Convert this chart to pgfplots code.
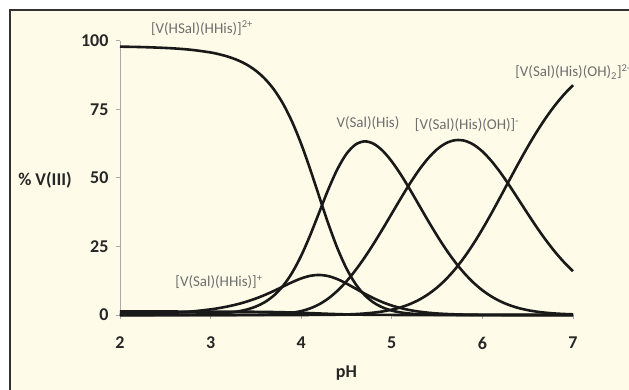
\documentclass[border=0pt]{standalone}
\usepackage{pgfplots}
\usepackage{pgfplotstable}
\usepackage{fontspec}
\setmainfont{Carlito}
\pgfplotsset{compat=1.18}
\definecolor{cream}{RGB}{254,251,232}
\definecolor{framegray}{RGB}{50,50,50}
\definecolor{labgray}{RGB}{110,110,110}
\definecolor{axgray}{RGB}{170,170,170}
\definecolor{curve}{RGB}{25,25,25}
\tikzset{speccurve/.style={draw=curve, line width=2.6bp, smooth, mark=none}}

\pgfplotstableread{
pH A B C D E F
2.0 97.83 0.21 0.00 0.00 0.00 1.27
2.2 97.71 0.33 0.01 0.00 0.00 1.27
2.4 97.50 0.52 0.02 0.00 0.00 1.27
2.6 97.18 0.83 0.05 0.00 0.00 1.26
2.8 96.63 1.30 0.13 0.00 0.00 1.25
3.0 95.71 2.05 0.33 0.00 0.00 1.24
3.1 95.01 2.56 0.52 0.00 0.00 1.24
3.2 94.10 3.19 0.82 0.01 0.00 1.22
3.3 92.88 3.96 1.28 0.02 0.00 1.21
3.4 91.25 4.90 2.00 0.03 0.00 1.19
3.5 89.05 6.02 3.09 0.06 0.00 1.16
3.6 86.09 7.33 4.73 0.12 0.00 1.12
3.7 82.16 8.80 7.16 0.24 0.00 1.07
3.8 77.00 10.39 10.63 0.44 0.00 1.00
3.9 70.42 11.96 15.41 0.81 0.00 0.92
4.0 62.36 13.33 21.62 1.43 0.01 0.81
4.1 53.06 14.28 29.16 2.43 0.02 0.69
4.2 43.07 14.59 37.51 3.93 0.03 0.56
4.3 33.21 14.17 45.85 6.04 0.06 0.43
4.4 24.32 13.06 53.19 8.83 0.12 0.32
4.5 16.95 11.46 58.77 12.28 0.20 0.22
4.6 11.31 9.63 62.15 16.35 0.34 0.15
4.7 7.27 7.79 63.30 20.96 0.55 0.10
4.8 4.52 6.10 62.41 26.02 0.86 0.06
4.9 2.74 4.64 59.85 31.41 1.31 0.03
5.0 1.61 3.45 55.97 36.98 1.94 0.02
5.1 0.93 2.51 51.17 42.56 2.81 0.01
5.2 0.53 1.78 45.77 47.93 3.99 0.01
5.3 0.29 1.24 40.09 52.85 5.53 0.00
5.4 0.16 0.84 34.39 57.08 7.53 0.00
5.5 0.08 0.56 28.92 60.41 10.02 0.00
5.6 0.04 0.37 23.83 62.67 13.09 0.00
5.7 0.02 0.24 19.25 63.73 16.76 0.00
5.8 0.01 0.15 15.25 63.56 21.05 0.00
5.9 0.01 0.09 11.84 62.15 25.91 0.00
6.0 0.00 0.06 9.02 59.63 31.29 0.00
6.1 0.00 0.03 6.75 56.13 37.09 0.00
6.2 0.00 0.02 4.95 51.88 43.15 0.00
6.3 0.00 0.01 3.57 47.10 49.32 0.00
6.4 0.00 0.01 2.53 42.04 55.42 0.00
6.5 0.00 0.00 1.77 36.94 61.30 0.00
6.6 0.00 0.00 1.22 31.98 66.81 0.00
6.7 0.00 0.00 0.83 27.32 71.86 0.00
6.8 0.00 0.00 0.55 23.07 76.38 0.00
6.9 0.00 0.00 0.37 19.28 80.36 0.00
7.0 0.00 0.00 0.24 15.97 83.79 0.00
}\spec

\begin{document}
\begin{tikzpicture}
\useasboundingbox (-120bp,-75bp) rectangle (509bp,315bp);
\fill[white] (-120bp,-75bp) rectangle (509bp,315bp);
\fill[cream] (-110bp,-75bp) rectangle (509bp,305bp);
\draw[framegray, line width=1.6bp] (-110bp,-76bp) -- (-110bp,305bp) -- (510bp,305bp);
\begin{axis}[
  at={(0,0)}, anchor=south west,
  scale only axis,
  width=453bp, height=274.3bp,
  xmin=2, xmax=7, ymin=0, ymax=100,
  axis lines*=left,
  axis line style={axgray, line width=0.9bp},
  xtick={2,3,4,5,6,7},
  ytick={0,25,50,75,100},
  tick align=outside,
  major tick length=4bp,
  tick style={axgray, line width=0.9bp},
  /pgf/number format/assume math mode=true,
  ticklabel style={font=\fontsize{18bp}{18bp}\selectfont\bfseries, text=black!85},
  xticklabel style={anchor=center, yshift=-24bp},
  yticklabel style={anchor=east, xshift=-4bp},
  xlabel={pH},
  xlabel style={at={(axis description cs:0.5,0)}, anchor=center, yshift=-58bp,
    font=\fontsize{18bp}{18bp}\selectfont\bfseries, text=black!85},
  clip=false,
]
\addplot[speccurve] table[x=pH, y=F] {\spec};
\addplot[speccurve] table[x=pH, y=E] {\spec};
\addplot[speccurve] table[x=pH, y=D] {\spec};
\addplot[speccurve] table[x=pH, y=C] {\spec};
\addplot[speccurve] table[x=pH, y=B] {\spec};
\addplot[speccurve] table[x=pH, y=A] {\spec};

\node[font=\fontsize{18bp}{18bp}\selectfont\bfseries, text=black!85] at (axis cs:2,49.3) [xshift=-75bp] {\% V(III)};

\begin{scope}[every node/.style={font=\fontsize{15bp}{15bp}\selectfont, text=labgray, inner sep=0pt}]
\node at (axis cs:2.905,104.6) {[V(HSal)(HHis)]\textsuperscript{2+}};
\node at (axis cs:4.737,70.0) {V(Sal)(His)};
\node at (axis cs:5.830,69.3) {[V(Sal)(His)(OH)]\textsuperscript{-}};
\node at (axis cs:7.0,88.6) {[V(Sal)(His)(OH)\textsubscript{2}]\textsuperscript{2-}};
\node at (axis cs:3.093,12.0) {[V(Sal)(HHis)]\textsuperscript{+}};
\end{scope}
\end{axis}
\end{tikzpicture}
\end{document}
